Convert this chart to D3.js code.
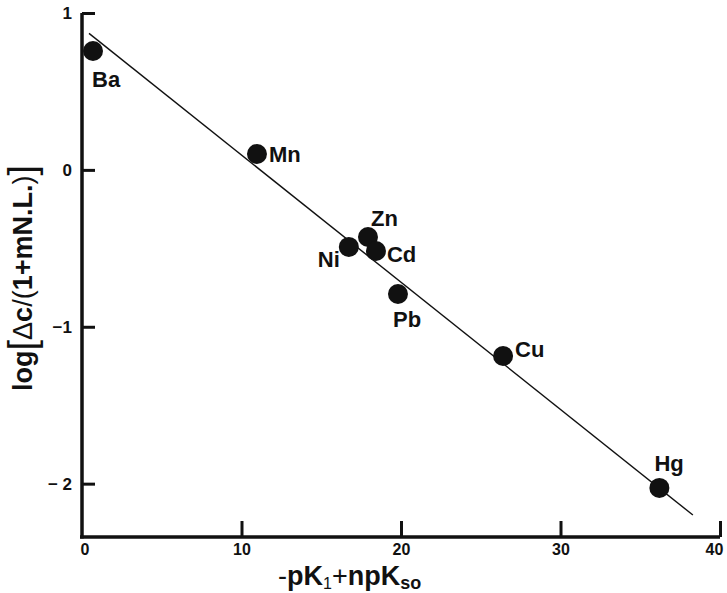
<!DOCTYPE html>
<html>
<head>
<meta charset="utf-8">
<script src="https://cdn.jsdelivr.net/npm/d3@7"></script>
<style>
  html, body { margin: 0; padding: 0; background: #fff; }
  svg { display: block; }
  text { font-family: "Liberation Sans", Arial, Helvetica, sans-serif; fill: #111; }
</style>
</head>
<body>
<svg id="chart" width="727" height="593"></svg>
<script>
// ---- data ----
const metals = ["Ba", "Mn", "Ni", "Zn", "Cd", "Pb", "Cu", "Hg"];
const xValues = [0.69, 10.97, 16.73, 17.93, 18.43, 19.81, 26.4, 36.2];
const yValues = [0.758, 0.101, -0.491, -0.428, -0.517, -0.791, -1.186, -2.027];
const fitX = [0.44, 38.3];
const fitY = [0.87, -2.2];
const xTicks = [10, 20, 30, 40];
const xTickLabels = ["10", "20", "30", "40"];
const yTicks = [1, 0, -1, -2];
const yTickLabels = ["1", "0", "\u22121", "\u2212 2"];

// ---- layout ----
const svg = d3.select("#chart");
const x = d3.scaleLinear().domain([0, 40]).range([82, 720]);
const y = d3.scaleLinear().domain([-2.34, 1]).range([537, 13]);
const ink = "#111";

// label placement (offsets from point, in px)
const labelPlacement = {
  Ba: { dx: -1, dy: 36, anchor: "start" },
  Mn: { dx: 12, dy: 8, anchor: "start" },
  Ni: { dx: -9, dy: 20, anchor: "end" },
  Zn: { dx: 3, dy: -11, anchor: "start" },
  Cd: { dx: 11, dy: 11, anchor: "start" },
  Pb: { dx: -5, dy: 33, anchor: "start" },
  Cu: { dx: 12, dy: 1, anchor: "start" },
  Hg: { dx: -5, dy: -17, anchor: "start" }
};

// x axis (ticks pointing up inside)
const xAxis = d3.axisBottom(x)
  .tickValues(xTicks)
  .tickFormat((d, i) => xTickLabels[i])
  .tickSize(-16)
  .tickSizeOuter(0)
  .tickPadding(7);
const gx = svg.append("g").attr("transform", `translate(0,${y(-2.34)})`).call(xAxis);
gx.select(".domain").attr("stroke", ink).attr("stroke-width", 3.5)
  .attr("d", `M${x(0) - 2},0H${x(40)}`);
gx.selectAll(".tick line").attr("stroke", ink).attr("stroke-width", 3);
gx.selectAll(".tick text").attr("font-size", 16).attr("font-weight", "bold")
  .attr("font-family", "'Liberation Sans', Arial, sans-serif").attr("fill", ink)
  .attr("dx", d => d === 40 ? -6 : 0);
// "0" label at origin
gx.append("text").attr("x", x(0) + 3).attr("y", 7).attr("dy", "0.71em")
  .attr("text-anchor", "middle").attr("font-size", 16).attr("font-weight", "bold")
  .attr("font-family", "'Liberation Sans', Arial, sans-serif").attr("fill", ink).text("0");

// y axis (ticks pointing right inside)
const yAxis = d3.axisLeft(y)
  .tickValues(yTicks)
  .tickFormat((d, i) => yTickLabels[i])
  .tickSize(-13)
  .tickSizeOuter(0)
  .tickPadding(10);
const gy = svg.append("g").attr("transform", `translate(${x(0)},0)`).call(yAxis);
gy.select(".domain").attr("stroke", ink).attr("stroke-width", 3.5)
  .attr("d", `M0,${y(1)}V${y(-2.34) + 1.5}`);
gy.selectAll(".tick line").attr("stroke", ink).attr("stroke-width", 3);
gy.selectAll(".tick text").attr("font-size", 17).attr("font-weight", "bold")
  .attr("font-family", "'Liberation Sans', Arial, sans-serif").attr("fill", ink);

// regression line
const line = d3.line().x(d => x(d[0])).y(d => y(d[1]));
svg.append("path")
  .datum(fitX.map((v, i) => [v, fitY[i]]))
  .attr("d", line)
  .attr("fill", "none")
  .attr("stroke", ink)
  .attr("stroke-width", 1.4);

// points
const pts = metals.map((m, i) => ({ m, xv: xValues[i], yv: yValues[i] }));
svg.append("g").selectAll("circle").data(pts).join("circle")
  .attr("cx", d => x(d.xv)).attr("cy", d => y(d.yv)).attr("r", 10)
  .attr("fill", ink);

svg.append("g").selectAll("text").data(pts).join("text")
  .attr("x", d => x(d.xv) + labelPlacement[d.m].dx)
  .attr("y", d => y(d.yv) + labelPlacement[d.m].dy)
  .attr("text-anchor", d => labelPlacement[d.m].anchor)
  .attr("font-size", 22).attr("font-weight", "bold")
  .text(d => d.m);

// x title
const xt = svg.append("text").attr("x", 278).attr("y", 585)
  .attr("font-size", 27).attr("font-weight", "bold");
xt.append("tspan").attr("font-weight", "normal").text("-");
xt.append("tspan").text("pK");
xt.append("tspan").attr("font-size", 16).attr("dy", 4).attr("font-weight", "normal").text("1");
xt.append("tspan").attr("dy", -4).attr("font-weight", "normal").text("+");
xt.append("tspan").text("npK");
xt.append("tspan").attr("font-size", 18).attr("dy", 4).text("so");

// y title
const yt = svg.append("text")
  .attr("transform", "translate(32,278) rotate(-90)")
  .attr("text-anchor", "middle")
  .attr("font-size", 27).attr("font-weight", "bold");
yt.append("tspan").text("log");
yt.append("tspan").attr("font-weight", "normal").attr("font-size", 38).attr("dy", 3).text("[");
yt.append("tspan").attr("font-weight", "normal").attr("dy", -3).text("\u0394");
yt.append("tspan").text("c");
yt.append("tspan").attr("font-weight", "normal").text("/(");
yt.append("tspan").text("1+mN.L.");
yt.append("tspan").attr("font-weight", "normal").text(")");
yt.append("tspan").attr("font-weight", "normal").attr("font-size", 38).attr("dy", 3).text("]");
</script>
</body>
</html>
